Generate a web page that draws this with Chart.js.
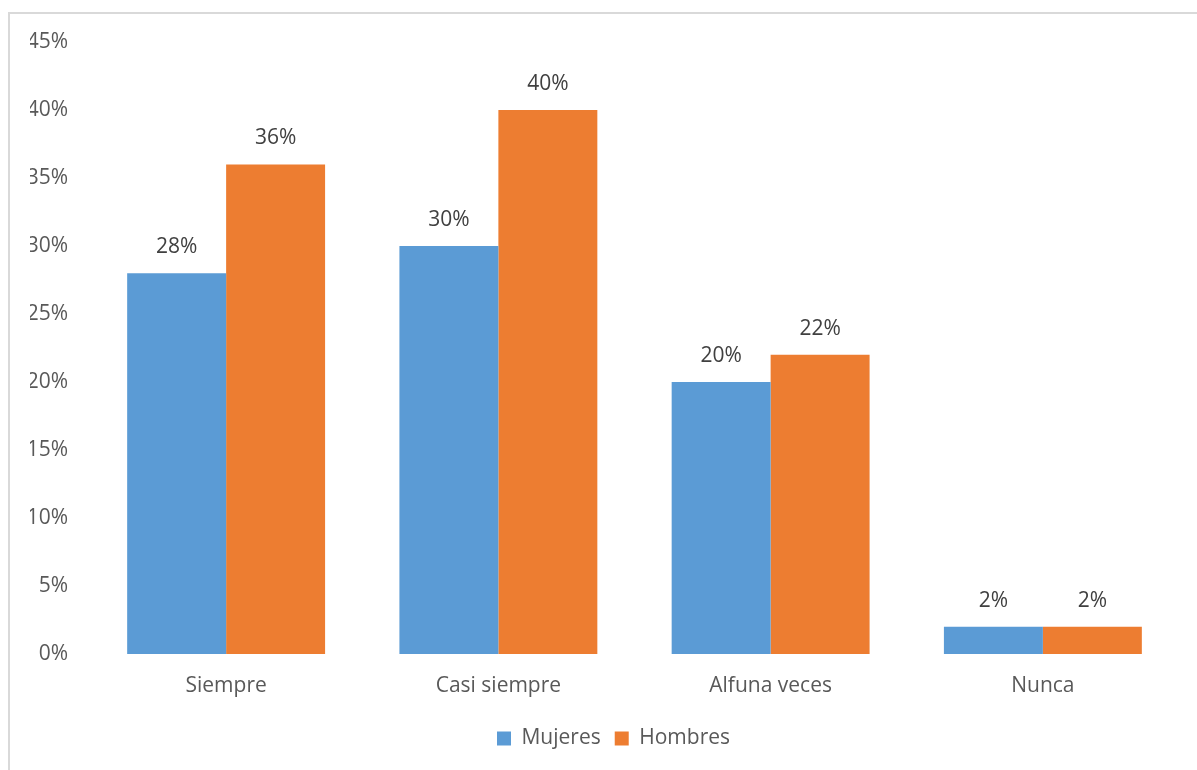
<!DOCTYPE html>
<html>
<head>
<meta charset="utf-8">
<script src="https://cdn.jsdelivr.net/npm/chart.js@4.4.0/dist/chart.umd.min.js"></script>
<style>
  html, body { margin: 0; padding: 0; background: #fff; overflow: hidden; }
  #wrap { position: absolute; left: 0; top: 0; width: 1197px; height: 770px; }
  #frame {
    position: absolute; left: 8px; top: 12px; width: 1300px; height: 900px;
    border: 2px solid #d9d9d9; pointer-events: none;
  }
</style>
</head>
<body>
<div id="wrap"><canvas id="grafico"></canvas></div>
<div id="frame"></div>
<script>
const categorias = ["Siempre", "Casi siempre", "Alfuna veces", "Nunca"];
const mujeres = [28, 30, 20, 2];
const hombres = [36, 40, 22, 2];
const yTicks = [0, 5, 10, 15, 20, 25, 30, 35, 40, 45];

const FUENTE = "'Open Sans', 'Liberation Sans', sans-serif";

// etiquetas de valor encima de cada barra
const etiquetasBarras = {
  id: "etiquetasBarras",
  afterDatasetsDraw(chart) {
    const ctx = chart.ctx;
    ctx.save();
    ctx.font = "21px " + FUENTE;
    ctx.fillStyle = "#404040";
    ctx.textAlign = "center";
    ctx.textBaseline = "middle";
    chart.data.datasets.forEach((ds, i) => {
      chart.getDatasetMeta(i).data.forEach((bar, j) => {
        ctx.fillText(ds.data[j] + "%", bar.x, bar.y - 26);
      });
    });
    ctx.restore();
  }
};

// centra la leyenda bajo el area de barras, un poco a la derecha
const moverLeyenda = {
  id: "moverLeyenda",
  afterLayout(chart) {
    if (chart.legend) {
      chart.legend.left += 9;
      chart.legend.right += 9;
    }
  }
};

const ctx = document.getElementById("grafico").getContext("2d");
new Chart(ctx, {
  type: "bar",
  data: {
    labels: categorias,
    datasets: [
      { label: "Mujeres", data: mujeres, backgroundColor: "#5b9bd5", borderWidth: 0 },
      { label: "Hombres", data: hombres, backgroundColor: "#ed7d31", borderWidth: 0 }
    ]
  },
  options: {
    responsive: true,
    maintainAspectRatio: false,
    animation: false,
    layout: { padding: { left: 30, right: 18, top: 42, bottom: 11 } },
    datasets: { bar: { categoryPercentage: 0.727, barPercentage: 1.0 } },
    scales: {
      x: {
        afterFit(scale) { scale.height = 60; },
        grid: { display: false, drawTicks: false },
        border: { display: false },
        ticks: { color: "#595959", font: { family: FUENTE, size: 21 }, padding: 19 }
      },
      y: {
        min: 0,
        max: 45,
        afterBuildTicks(scale) {
          scale.ticks = yTicks.map(v => ({ value: v }));
        },
        afterFit(scale) { scale.width = 60; },
        grid: { display: false, drawTicks: false },
        border: { display: false },
        ticks: {
          color: "#595959",
          font: { family: FUENTE, size: 21 },
          padding: 22,
          callback: v => v + "%"
        }
      }
    },
    plugins: {
      legend: {
        position: "bottom",
        labels: {
          color: "#595959",
          font: { family: FUENTE, size: 21 },
          boxWidth: 14,
          boxHeight: 14,
          padding: 14
        }
      },
      tooltip: { enabled: false }
    }
  },
  plugins: [etiquetasBarras, moverLeyenda]
});
</script>
</body>
</html>
